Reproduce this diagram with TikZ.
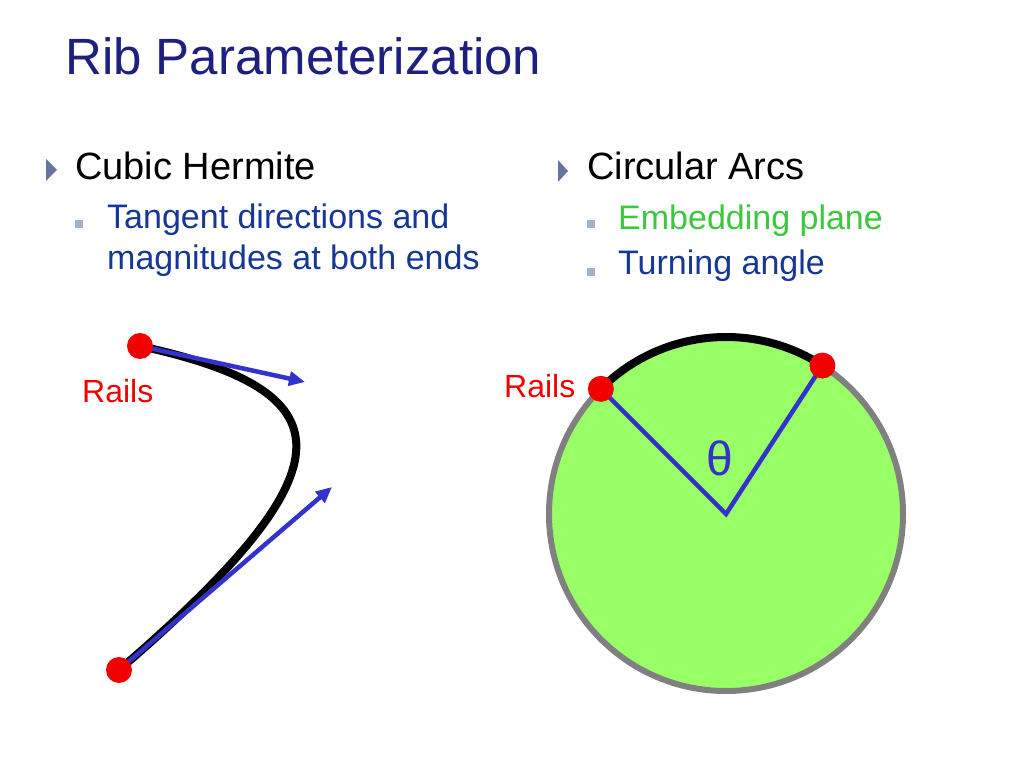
\documentclass[tikz,border=0pt]{standalone}
\usepackage{fontspec}
\setmainfont{Liberation Sans}
\usetikzlibrary{calc,positioning,arrows.meta}
\definecolor{titleblue}{RGB}{31,31,128}
\definecolor{subblue}{RGB}{22,55,150}
\definecolor{bulletgray}{RGB}{105,115,160}
\definecolor{squaregray}{RGB}{160,180,205}
\definecolor{embedgreen}{RGB}{60,200,60}
\definecolor{planegreen}{RGB}{153,255,102}
\definecolor{lineblue}{RGB}{51,51,204}
\definecolor{railred}{RGB}{240,0,0}

\begin{document}
\begin{tikzpicture}[
    x=1pt, y=1pt,
    txt/.style={anchor=base west, inner sep=0pt},
    title/.style={txt, text=titleblue, font=\fontsize{51}{61}\selectfont},
    head/.style={txt, text=black, font=\fontsize{38}{46}\selectfont},
    sub/.style={txt, text=subblue, font=\fontsize{34}{41}\selectfont},
    sq/.style={rectangle, fill=squaregray, minimum size=8pt, inner sep=0pt},
    rail/.style={circle, fill=railred, minimum size=26pt, inner sep=0pt},
    railtext/.style={txt, text=railred, font=\fontsize{32}{38}\selectfont},
    tangent/.style={line width=4.5pt, lineblue, -{Triangle[length=16pt, width=14pt]}},
    curve/.style={line width=8pt, black},
    spoke/.style={line width=4.5pt, lineblue}
]
    \fill[white] (0,0) rectangle (1024,768);
    \useasboundingbox (0,0) rectangle (1024,768);

    % Title
    \node[title] (title) at (65,693) {Rib Parameterization};

    % Left column
    \fill[bulletgray] (46,609) -- (57,598) -- (46,587) -- cycle;
    \node[head] (hermite) at (75,588) {Cubic Hermite};
    \node[sq] (sq1) at (79,544) {};
    \node[sub] (tan1) at (107,539) {Tangent directions and};
    \node[sub] (tan2) at (107,498) {magnitudes at both ends};

    % Right column
    \fill[bulletgray] (558,608) -- (568,597) -- (558,586) -- cycle;
    \node[head] (arcs) at (587,588) {Circular Arcs};
    \node[sq] (sq2) at (591,544) {};
    \node[sub, text=embedgreen] (embed) at (618,538) {Embedding plane};
    \node[sq] (sq3) at (591,496) {};
    \node[sub] (turn) at (618,493) {Turning angle};

    % Hermite rib
    \coordinate (p0) at (140,422);
    \coordinate (p1) at (119,98);
    \coordinate (t0) at (305,386);
    \coordinate (t1) at (332,281);
    \draw[curve] (p0) .. controls ($(p0)!1.25!(t0)$) and ($(p1)!1.12!(t1)$) .. (p1);
    \draw[tangent] (p0) -- (t0);
    \draw[tangent] (p1) -- (t1);
    \node[rail] (railA) at (p0) {};
    \node[rail] (railB) at (p1) {};
    \node[railtext] (railsL) at (82,365) {Rails};

    % Circular arc rib
    \node[circle, draw=gray, fill=planegreen, line width=6pt, outer sep=0pt,
          minimum size=354pt, inner sep=0pt] (plane) at (726,254) {};
    \draw[curve] (plane.135) arc[start angle=135, end angle=57, radius=177pt];
    \draw[spoke] (plane.135) -- (plane.center) -- (plane.57);
    \node[rail] (railC) at (plane.135) {};
    \node[rail] (railD) at (plane.57) {};
    \node[railtext] (railsR) at (504,370) {Rails};
    \node[text=lineblue, font=\fontsize{48}{58}\selectfont, inner sep=0pt] (theta) at (720,310) {θ};
\end{tikzpicture}
\end{document}
